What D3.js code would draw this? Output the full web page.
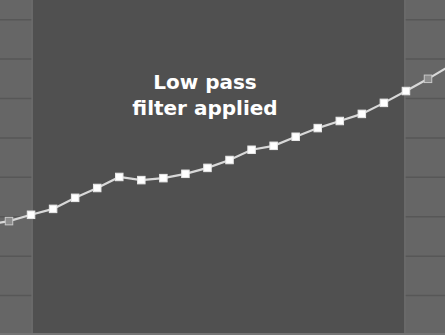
<!DOCTYPE html>
<html>
<head>
<meta charset="utf-8">
<script src="https://cdn.jsdelivr.net/npm/d3@7"></script>
<style>
  html, body { margin: 0; padding: 0; background: #505050; }
  svg { display: block; }
</style>
</head>
<body>
<div id="chart"></div>
<script>
// sample index and smoothed value (grid units); -1 and 20 run off the edges
var samples = [-1, 0, 1, 2, 3, 4, 5, 6, 7, 8, 9, 10, 11, 12, 13, 14, 15, 16, 17, 18, 19, 20];
var values = [1.79, 1.89, 2.05, 2.20, 2.48, 2.73, 3.01, 2.93, 2.98, 3.09, 3.24, 3.44,
              3.70, 3.80, 4.03, 4.25, 4.43, 4.61, 4.89, 5.19, 5.50, 5.83];
// samples outside the filter window are drawn hollow
var rawSamples = [0, 19];
var filterWindow = [1.05, 17.95];
var gridTicks = [0, 1, 2, 3, 4, 5, 6, 7];
var labelLines = ["Low pass", "filter applied"];

var width = 445, height = 335;

var data = samples.map(function (s, i) { return { i: s, v: values[i] }; });

var x = d3.scaleLinear().domain([0, 19]).range([9, 428]);
var y = d3.scaleLinear().domain([-1, 7.5]).range([height, 0]);

var svg = d3.select("#chart").append("svg")
    .attr("width", width)
    .attr("height", height);

// lighter side bands = unfiltered part
svg.append("rect")
    .attr("width", width).attr("height", height)
    .attr("fill", "#666666");

// horizontal grid
svg.append("g").selectAll("line")
    .data(gridTicks)
    .enter().append("line")
    .attr("x1", 0).attr("x2", width)
    .attr("y1", function (d) { return y(d); })
    .attr("y2", function (d) { return y(d); })
    .attr("stroke", "#575757")
    .attr("stroke-width", 1.5);

// filtered window
svg.append("rect")
    .attr("x", x(filterWindow[0]))
    .attr("width", x(filterWindow[1]) - x(filterWindow[0]))
    .attr("y", 0).attr("height", height)
    .attr("fill", "#505050");

// edges of the window
svg.append("g").selectAll("line")
    .data(filterWindow)
    .enter().append("line")
    .attr("x1", function (d) { return x(d); })
    .attr("x2", function (d) { return x(d); })
    .attr("y1", 0).attr("y2", height)
    .attr("stroke", "#6c6c6c")
    .attr("stroke-width", 1.5);

// bottom border
svg.append("line")
    .attr("x1", 0).attr("x2", width)
    .attr("y1", height - 1).attr("y2", height - 1)
    .attr("stroke", "#747474")
    .attr("stroke-width", 2);

var line = d3.line()
    .x(function (d) { return x(d.i); })
    .y(function (d) { return y(d.v); });

svg.append("path")
    .datum(data)
    .attr("d", line)
    .attr("fill", "none")
    .attr("stroke", "#d8d8d8")
    .attr("stroke-width", 2.2);

var s = 7.5;
svg.append("g").selectAll("rect")
    .data(data.filter(function (d) { return d.i >= 0 && d.i <= 19; }))
    .enter().append("rect")
    .attr("x", function (d) { return x(d.i) - s / 2; })
    .attr("y", function (d) { return y(d.v) - s / 2; })
    .attr("width", s).attr("height", s)
    .attr("fill", function (d) { return rawSamples.indexOf(d.i) >= 0 ? "#8c8c8c" : "#ffffff"; })
    .attr("stroke", function (d) { return rawSamples.indexOf(d.i) >= 0 ? "#c8c8c8" : "#e8e8e8"; })
    .attr("stroke-width", 1);

svg.append("text")
    .attr("x", 205)
    .attr("y", 89)
    .attr("text-anchor", "middle")
    .style("font-family", "'DejaVu Sans', Verdana, sans-serif")
    .style("font-weight", "bold")
    .style("font-size", "20px")
    .attr("fill", "#ffffff")
    .selectAll("tspan")
    .data(labelLines)
    .enter().append("tspan")
    .attr("x", 205)
    .attr("dy", function (d, i) { return i ? 26 : 0; })
    .text(function (d) { return d; });
</script>
</body>
</html>
